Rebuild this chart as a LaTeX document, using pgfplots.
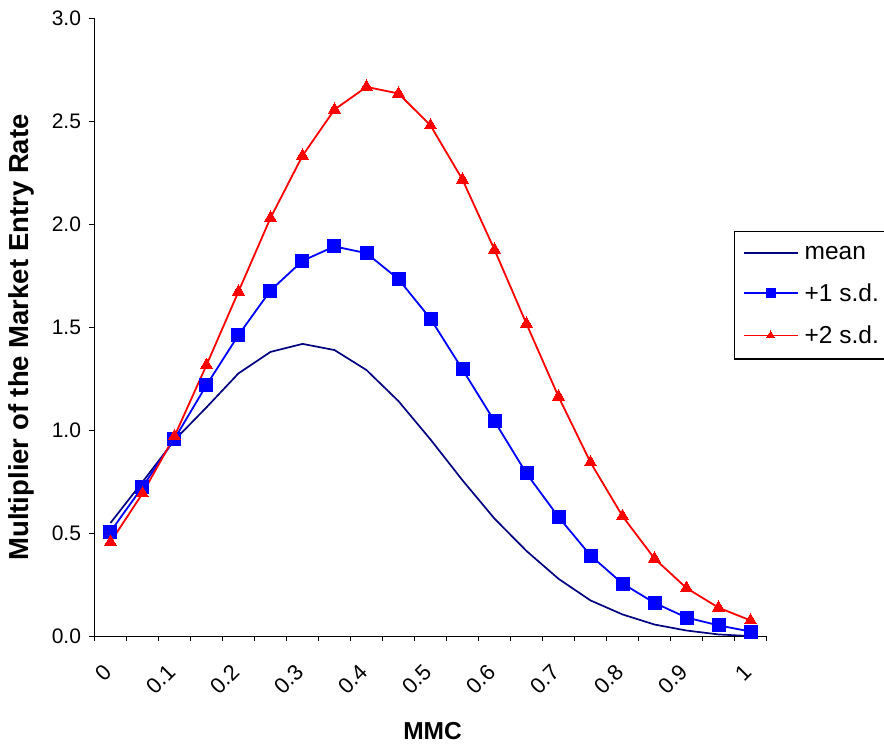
\documentclass[border=0pt]{standalone}
\usepackage{pgfplots}
\pgfplotsset{compat=1.18}
\usepackage{fontspec}
\setmainfont{Liberation Sans}
\definecolor{navyline}{RGB}{0,0,128}
\definecolor{blueline}{RGB}{0,0,255}
\definecolor{redline}{RGB}{255,0,0}
\begin{document}
\begin{tikzpicture}
\useasboundingbox (-94.5pt,-109.5pt) rectangle (789.5pt,636.5pt);
\begin{axis}[
  at={(0pt,0pt)}, anchor=south west,
  scale only axis, width=672pt, height=618.2pt,
  xmin=0, xmax=21, ymin=0, ymax=3,
  axis lines*=left,
  axis line style={line width=1.6pt, black},
  xtick={0,2,...,20},
  minor xtick={1,3,...,21},
  xticklabels={0,0.1,0.2,0.3,0.4,0.5,0.6,0.7,0.8,0.9,1},
  ytick={0,0.5,1,1.5,2,2.5,3},
  yticklabels={0.0,0.5,1.0,1.5,2.0,2.5,3.0},
  tick align=outside,
  major tick length=5pt,
  minor tick length=5pt,
  tick style={line width=1.4pt, black},
  minor tick style={line width=1.4pt, black},
  yticklabel style={font=\fontsize{21}{24}\selectfont, xshift=-5pt},
  xticklabel style={font=\fontsize{22}{25}\selectfont, rotate=45, anchor=east, xshift=-6pt, yshift=-28pt},
  xlabel={\bfseries MMC},
  ylabel={\bfseries Multiplier of the Market Entry Rate},
  xlabel style={at={(axis description cs:0.503,-0.1674)}, anchor=base, font=\fontsize{24.5}{27}\selectfont},
  ylabel style={at={(axis description cs:-0.1085,0.4837)}, anchor=center, rotate=0, font=\fontsize{27.5}{30}\selectfont},
  legend style={at={(axis description cs:0.952,0.6555)}, anchor=north west,
    draw=black, line width=1.2pt, font=\fontsize{24.5}{28}\selectfont,
    inner xsep=8pt, inner ysep=12pt, row sep=19pt, column sep=4pt,
    nodes={inner sep=2pt}},
  legend cell align=left,
  legend image code/.code={\draw[mark repeat=2,mark phase=2,#1, mark size=4.5pt] plot coordinates {(0pt,0pt) (27pt,0pt) (54pt,0pt)};},
  clip=false,
]
\addplot[navyline, line width=1.7pt, mark=none] coordinates {
(0.5,0.551) (1.5,0.750) (2.5,0.953) (3.5,1.112) (4.5,1.277) (5.5,1.381) (6.5,1.420)
(7.5,1.390) (8.5,1.293) (9.5,1.142) (10.5,0.956) (11.5,0.758) (12.5,0.572) (13.5,0.415)
(14.5,0.280) (15.5,0.175) (16.5,0.107) (17.5,0.058) (18.5,0.029) (19.5,0.010) (20.5,0.002)};
\addlegendentry{mean}
\addplot[blueline, line width=1.8pt, mark=square*, mark size=6.5pt, mark options={solid, fill=blueline, draw=blueline, line width=0pt}] coordinates {
(0.5,0.509) (1.5,0.726) (2.5,0.959) (3.5,1.220) (4.5,1.463) (5.5,1.679) (6.5,1.823)
(7.5,1.893) (8.5,1.860) (9.5,1.734) (10.5,1.542) (11.5,1.296) (12.5,1.045) (13.5,0.791)
(14.5,0.580) (15.5,0.393) (16.5,0.257) (17.5,0.163) (18.5,0.092) (19.5,0.054) (20.5,0.024)};
\addlegendentry{+1 s.d.}
\addplot[redline, line width=1.8pt, mark=triangle*, mark size=7pt, mark options={solid, fill=redline, draw=redline, line width=0pt}] coordinates {
(0.5,0.458) (1.5,0.694) (2.5,0.972) (3.5,1.317) (4.5,1.674) (5.5,2.031) (6.5,2.333)
(7.5,2.557) (8.5,2.667) (9.5,2.635) (10.5,2.480) (11.5,2.217) (12.5,1.877) (13.5,1.517)
(14.5,1.164) (15.5,0.845) (16.5,0.584) (17.5,0.378) (18.5,0.235) (19.5,0.140) (20.5,0.078)};
\addlegendentry{+2 s.d.}
\end{axis}
\end{tikzpicture}
\end{document}
